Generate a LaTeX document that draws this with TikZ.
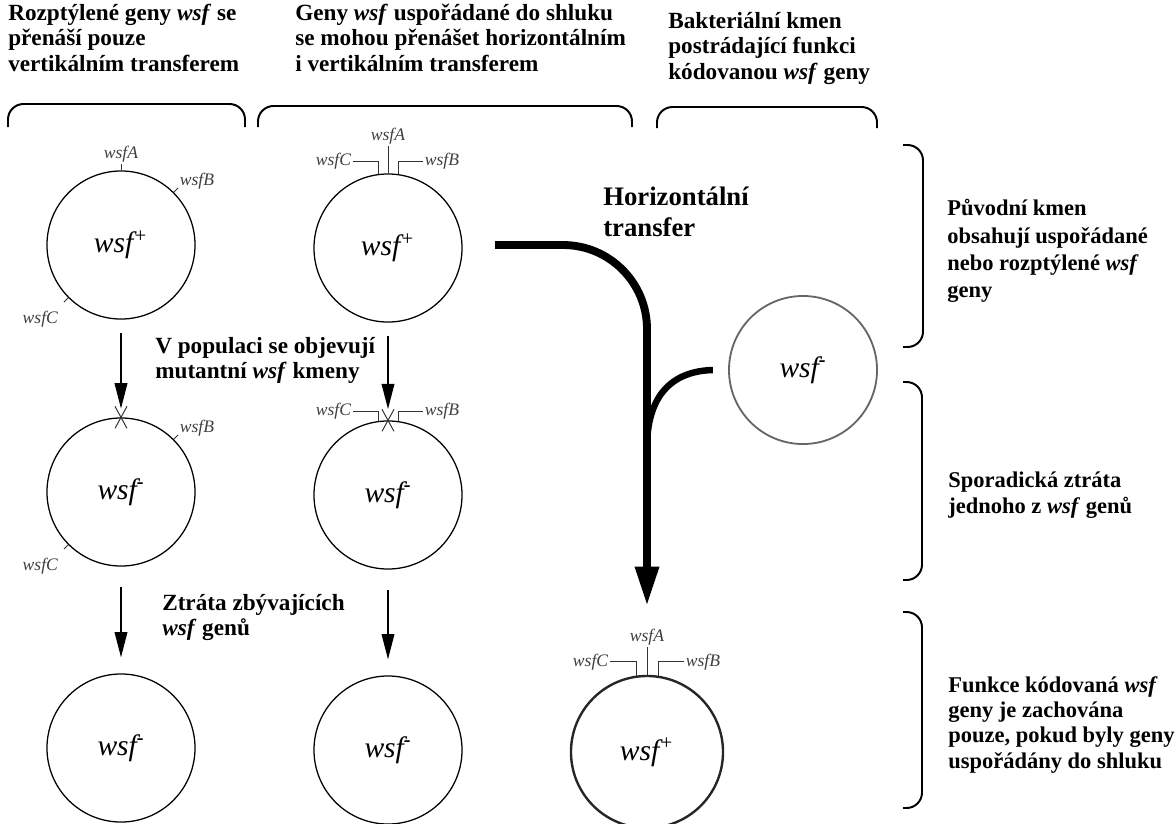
\documentclass[tikz,border=0pt]{standalone}
\usepackage{fontspec}
\setmainfont{Liberation Serif}
\usepackage{tikz}
\usetikzlibrary{arrows.meta,calc}

\newcommand\wsfminus{wsf\textsuperscript{\textbf{-}}}
\newcommand\wsfplus{wsf\textsuperscript{+}}

\tikzset{
  cell/.style={circle,draw,line width=0.9pt,minimum size=3.7cm,inner sep=0pt,
    font=\fontsize{21}{21}\selectfont\itshape},
  gene/.style={font=\fontsize{12.5}{12.5}\selectfont\itshape,text=black!75,inner sep=1pt},
  genetick/.style={line width=0.7pt,black!80},
  note/.style={font=\fontsize{16.5}{18}\selectfont\bfseries,align=left,inner sep=0pt,anchor=north west},
  vert/.style={line width=1.1pt,-{Triangle[length=18pt,width=9pt]}},
  big/.style={line width=5.6pt,-{Triangle[length=28pt,width=16pt]}},
  branch/.style={line width=4.6pt},
  bracketline/.style={line width=1.4pt,rounded corners=11pt},
}

\begin{document}
\begin{tikzpicture}[x=0.025cm,y=-0.025cm]
\useasboundingbox (0,0) rectangle (1176,823);

% headers
\node[note] (h1) at (8,4) {Rozptýlené geny \textit{wsf} se\\přenáší pouze\\vertikálním transferem};
\node[note] (h2) at (295,4) {Geny \textit{wsf} uspořádané do shluku\\se mohou přenášet horizontálním\\i vertikálním transferem};
\node[note] (h3) at (668,12) {Bakteriální kmen\\postrádající funkci\\kódovanou \textit{wsf} geny};

\draw[bracketline] (8,127) -- (8,104) -- (245,104) -- (245,127);
\draw[bracketline] (258,127) -- (258,106) -- (632,106) -- (632,127);
\draw[bracketline] (657,128) -- (657,107) -- (877,107) -- (877,128);

% scattered genes
\node[cell] (c11) at (121,245) {\wsfplus};
\node[cell] (c12) at (121,492) {\wsfminus};
\node[cell] (c13) at (121,748) {\wsfminus};

\draw[genetick] (c11.90) -- ($(c11.center)!1.08!(c11.90)$) node[gene,above] {wsfA};
\draw[genetick] (c11.45) -- ($(c11.center)!1.08!(c11.45)$) node[gene,anchor=south west,yshift=-2pt] {wsfB};
\draw[genetick] (c11.225) -- ($(c11.center)!1.08!(c11.225)$) node[gene,anchor=north east,xshift=-3pt,yshift=-5pt] {wsfC};

\draw[genetick] ($(c12.north)+(-6,-11)$) -- ($(c12.north)+(6,11)$);
\draw[genetick] ($(c12.north)+(6,-11)$) -- ($(c12.north)+(-6,11)$);
\draw[genetick] (c12.45) -- ($(c12.center)!1.08!(c12.45)$) node[gene,anchor=south west,yshift=-2pt] {wsfB};
\draw[genetick] (c12.225) -- ($(c12.center)!1.08!(c12.225)$) node[gene,anchor=north east,xshift=-3pt,yshift=-5pt] {wsfC};

\draw[vert,shorten <=0.33cm,shorten >=0.22cm] (c11) -- (c12);
\draw[vert,shorten <=0.52cm,shorten >=0.4cm] (c12) -- (c13);

% clustered genes
\node[cell] (c21) at (388,248) {\wsfplus};
\node[cell] (c22) at (388,495) {\wsfminus};
\node[cell] (c23) at (388,750) {\wsfminus};

\draw[genetick] (c21.north) -- ++(0,-27) node[gene,above] {wsfA};
\draw[genetick] ($(c21.north)+(-10,1)$) -- ++(0,-13) -- ++(-25,0) node[gene,anchor=east] {wsfC};
\draw[genetick] ($(c21.north)+(10,1)$) -- ++(0,-13) -- ++(25,0) node[gene,anchor=west] {wsfB};

\draw[genetick] ($(c22.north)+(-6,-11)$) -- ($(c22.north)+(6,11)$);
\draw[genetick] ($(c22.north)+(6,-11)$) -- ($(c22.north)+(-6,11)$);
\draw[genetick] ($(c22.north)+(-10,1)$) -- ++(0,-10) -- ++(-25,0) node[gene,anchor=east] {wsfC};
\draw[genetick] ($(c22.north)+(10,1)$) -- ++(0,-10) -- ++(25,0) node[gene,anchor=west] {wsfB};

\draw[vert,shorten <=0.33cm,shorten >=0.28cm] (c21) -- (c22);
\draw[vert,shorten <=0.52cm,shorten >=0.4cm] (c22) -- (c23);

% recipient strain
\node[cell,draw=black!60,line width=1.3pt] (cr) at (803,370) {\wsfminus};
\node[cell,draw=black!85,line width=1.7pt,minimum size=3.8cm] (cb) at (647,752) {\wsfplus};

\draw[genetick] (cb.north) -- ++(0,-28) node[gene,above] {wsfA};
\draw[genetick] ($(cb.north)+(-11,1)$) -- ++(0,-14) -- ++(-26,0) node[gene,anchor=east] {wsfC};
\draw[genetick] ($(cb.north)+(11,1)$) -- ++(0,-14) -- ++(26,0) node[gene,anchor=west] {wsfB};

\coordinate (hstart) at (495,245);
\coordinate (join) at (647,445);
\draw[big,rounded corners=2.1cm,shorten >=1.72cm] (hstart) -| (cb.north);
\draw[branch] ([xshift=-0.38cm]cr.west) .. controls (675,371) and (648,392) .. (join);

\node[note,font=\fontsize{19}{21.5}\selectfont\bfseries] (ht) at (603,187) {Horizontální\\transfer};

% middle notes
\node[note] (m1) at (155,337) {V populaci se objevují\\mutantní \textit{wsf} kmeny};
\node[note] (m2) at (162,594) {Ztráta zbývajících\\\textit{wsf} genů};

% right side
\draw[bracketline] (903,145) -- (923,145) -- (923,347) -- (903,347);
\draw[bracketline] (903,382) -- (922,382) -- (922,580) -- (903,580);
\draw[bracketline] (903,612) -- (922,612) -- (922,808) -- (903,808);

\node[note,font=\fontsize{16}{19.5}\selectfont\bfseries] (r1) at (947,199) {Původní kmen\\obsahují uspořádané\\nebo rozptýlené \textit{wsf}\\geny};
\node[note,font=\fontsize{16}{18}\selectfont\bfseries] (r2) at (948,472) {Sporadická ztráta\\jednoho z \textit{wsf} genů};
\node[note,font=\fontsize{16}{18}\selectfont\bfseries] (r3) at (948,676) {Funkce kódovaná \textit{wsf}\\geny je zachována\\pouze, pokud byly geny\\uspořádány do shluku};
\end{tikzpicture}
\end{document}
